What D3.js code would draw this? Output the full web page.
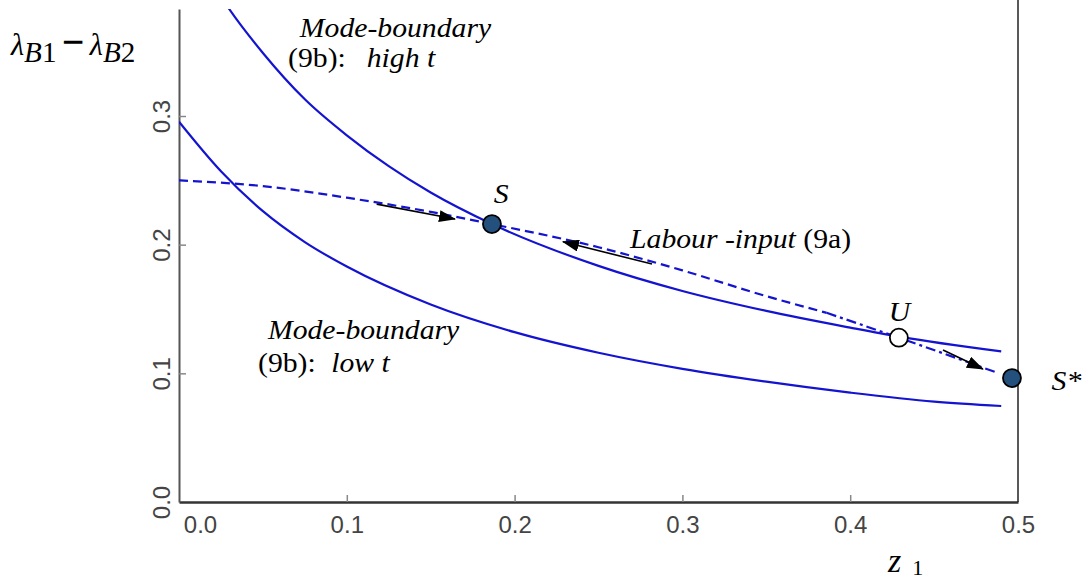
<!DOCTYPE html>
<html lang="en">
<head>
<meta charset="UTF-8" />
<title>Mode boundary and labour input</title>
<style>
  body { margin: 0; background: #fff; }
  .curve { fill: none; stroke: #1414d0; stroke-width: 2.2px; }
  .tick text { font-family: 'Liberation Sans', Arial, sans-serif; font-size: 24px; fill: #444; }
  .note { font-family: 'Liberation Serif', 'Times New Roman', serif; font-size: 27px; fill: #000; }
</style>
<script src="https://cdn.jsdelivr.net/npm/d3@7"></script>
</head>
<body>
<svg id="chart" width="1091" height="579"></svg>
<script>
  // mode boundary (9b), high t
  const zHigh = [0.02, 0.03, 0.05, 0.075, 0.10, 0.125, 0.15, 0.1865, 0.25, 0.30, 0.35, 0.40, 0.429, 0.49];
  const lamHigh = [0.403, 0.383, 0.349, 0.313, 0.285, 0.261, 0.2405, 0.216, 0.1835, 0.164, 0.1485, 0.1355, 0.1285, 0.117];
  // mode boundary (9b), low t
  const zLow = [0, 0.025, 0.05, 0.075, 0.10, 0.15, 0.20, 0.25, 0.30, 0.35, 0.40, 0.45, 0.49];
  const lamLow = [0.2955, 0.257, 0.226, 0.202, 0.183, 0.1535, 0.132, 0.116, 0.1035, 0.0935, 0.085, 0.078, 0.0746];
  // labour input (9a)
  const zLab = [0, 0.05, 0.10, 0.15, 0.1865, 0.25, 0.30, 0.35, 0.386, 0.429, 0.4875];
  const lamLab = [0.250, 0.2455, 0.2365, 0.2255, 0.216, 0.198, 0.180, 0.160, 0.147, 0.1277, 0.1005];

  const xTicks = [0, 0.1, 0.2, 0.3, 0.4, 0.5];
  const yTicks = [0, 0.1, 0.2, 0.3];

  const points = [
    { name: 'S', z: 0.1865, v: 0.216, fill: '#24507e' },
    { name: 'U', z: 0.429, v: 0.1277, fill: '#fff' },
    { name: 'S*', z: 0.4964, v: 0.0963, fill: '#24507e' }
  ];
  const arrows = [
    { z1: 0.1178, v1: 0.2315, z2: 0.1645, v2: 0.2199 },
    { z1: 0.2819, v1: 0.1850, z2: 0.2288, v2: 0.2022 },
    { z1: 0.4553, v1: 0.1181, z2: 0.4791, v2: 0.1033 }
  ];

  const svg = d3.select('#chart');
  const pLeft = 179, pRight = 1018, pTop = 9, pBottom = 502;

  const x = d3.scaleLinear().domain([0, 0.5]).range([pLeft, pRight]);
  const y = d3.scaleLinear().domain([0, 0.3]).range([pBottom, 116]);
  const yMax = y.invert(pTop);

  const defs = svg.append('defs');
  defs.append('clipPath').attr('id', 'plot')
    .append('rect').attr('x', pLeft).attr('y', pTop)
    .attr('width', pRight - pLeft).attr('height', pBottom - pTop);

  defs.append('marker')
    .attr('id', 'head').attr('viewBox', '0 0 17 12')
    .attr('markerWidth', 17).attr('markerHeight', 12)
    .attr('refX', 16).attr('refY', 6)
    .attr('markerUnits', 'userSpaceOnUse').attr('orient', 'auto')
    .append('path').attr('d', 'M0,0 L17,6 L0,12 Z').attr('fill', '#000');

  // axes
  const xAxis = svg.append('g').attr('transform', `translate(0,${pBottom})`)
    .call(d3.axisBottom(x).tickValues(xTicks).tickSize(-7).tickSizeOuter(0).tickPadding(14).tickFormat(d3.format('.1f')));
  xAxis.select('.domain').attr('stroke', '#333').attr('stroke-width', 2.5);
  xAxis.selectAll('.tick line').attr('stroke', '#888').attr('stroke-width', 1.5)
    .filter(d => d === 0 || d === 0.5).remove();
  xAxis.selectAll('.tick text').filter(d => d === 0).attr('x', 21);

  const yAxis = svg.append('g').attr('transform', `translate(${pLeft},0)`)
    .call(d3.axisLeft(y.copy().domain([0, yMax]).range([pBottom, pTop])).tickValues(yTicks).tickSize(-7).tickSizeOuter(0).tickFormat(d3.format('.1f')));
  yAxis.select('.domain').attr('stroke', '#555').attr('stroke-width', 2);
  yAxis.selectAll('.tick line').attr('stroke', '#888').attr('stroke-width', 1.5)
    .filter(d => d === 0).remove();
  yAxis.selectAll('.tick text')
    .attr('x', 0).attr('y', 0).attr('dy', null)
    .attr('text-anchor', 'middle')
    .attr('transform', 'translate(-9,0) rotate(-90)');

  svg.append('line')
    .attr('x1', x(0.5)).attr('x2', x(0.5))
    .attr('y1', 0).attr('y2', pBottom)
    .attr('stroke', '#222').attr('stroke-width', 1.5);

  // curves
  const line = d3.line().x(d => x(d[0])).y(d => y(d[1])).curve(d3.curveMonotoneX);
  const plot = svg.append('g').attr('clip-path', 'url(#plot)');

  plot.append('path').attr('class', 'curve').attr('d', line(d3.zip(zHigh, lamHigh)));
  plot.append('path').attr('class', 'curve').attr('d', line(d3.zip(zLow, lamLow)));

  const lab = d3.zip(zLab, lamLab);
  const split = zLab.indexOf(0.386);
  plot.append('path').attr('class', 'curve')
    .attr('stroke-width', 2.5)
    .attr('stroke-dasharray', '9,5')
    .attr('d', line(lab.slice(0, split + 1)));
  plot.append('path').attr('class', 'curve')
    .attr('stroke-width', 2.5)
    .attr('stroke-dasharray', '10,4,3,4')
    .attr('d', line(lab.slice(split)));

  // arrows
  svg.append('g').selectAll('line')
    .data(arrows).join('line')
    .attr('x1', d => x(d.z1)).attr('y1', d => y(d.v1))
    .attr('x2', d => x(d.z2)).attr('y2', d => y(d.v2))
    .attr('stroke', '#000').attr('stroke-width', 1.6)
    .attr('marker-end', 'url(#head)');

  // equilibrium points
  svg.append('g').selectAll('circle')
    .data(points).join('circle')
    .attr('cx', d => x(d.z)).attr('cy', d => y(d.v))
    .attr('r', 9)
    .attr('fill', d => d.fill)
    .attr('stroke', '#000').attr('stroke-width', 1.8);

  // text notes, placed in data units; a slight horizontal stretch like the source
  function note(z, v, parts, size) {
    const t = svg.append('g')
      .attr('transform', `translate(${x(z)},${y(v)}) scale(1.1,1)`)
      .append('text').attr('class', 'note')
      .attr('font-size', size || null);
    parts.forEach(p => {
      t.append('tspan')
        .attr('font-style', p.it ? 'italic' : null)
        .attr('dx', p.dx || null)
        .text(p.s);
    });
  }

  note(0.0720, 0.3614, [{ s: 'Mode-boundary', it: true }]);
  note(0.0650, 0.3380, [{ s: '(9b):' }, { s: 'high t', it: true, dx: 19 }]);
  note(0.0530, 0.1267, [{ s: 'Mode-boundary', it: true }]);
  note(0.0471, 0.1010, [{ s: '(9b):' }, { s: 'low t', it: true, dx: 14 }]);
  note(0.2688, 0.1974, [{ s: 'Labour -input ', it: true }, { s: '(9a)' }]);
  note(0.1875, 0.2324, [{ s: 'S', it: true }], 29);
  note(0.4230, 0.1407, [{ s: 'U', it: true }], 29);
  note(0.5200, 0.0870, [{ s: 'S*', it: true }], 29);

  // axis titles
  const yt = svg.append('g').attr('transform', 'translate(11,55) scale(1.12,1.15)')
    .append('text').attr('class', 'note').attr('font-size', 39);
  yt.append('tspan').attr('font-style', 'italic').text('λ');
  yt.append('tspan').attr('font-style', 'italic').attr('font-size', 26).attr('dy', 6).text('B');
  yt.append('tspan').attr('font-size', 26).text('1');
  yt.append('tspan').attr('dy', -6).attr('dx', 5).attr('font-family', 'Liberation Sans').attr('font-size', 34).text('−');
  yt.append('tspan').attr('font-style', 'italic').attr('dx', 5).text('λ');
  yt.append('tspan').attr('font-style', 'italic').attr('font-size', 26).attr('dy', 6).text('B');
  yt.append('tspan').attr('font-size', 26).text('2');

  const xt = svg.append('text').attr('class', 'note')
    .attr('x', 888).attr('y', 572);
  xt.append('tspan').attr('font-style', 'italic').attr('font-size', 34).text('z');
  xt.append('tspan').attr('font-size', 22).attr('dx', 11).attr('dy', 3).text('1');
</script>
</body>
</html>
